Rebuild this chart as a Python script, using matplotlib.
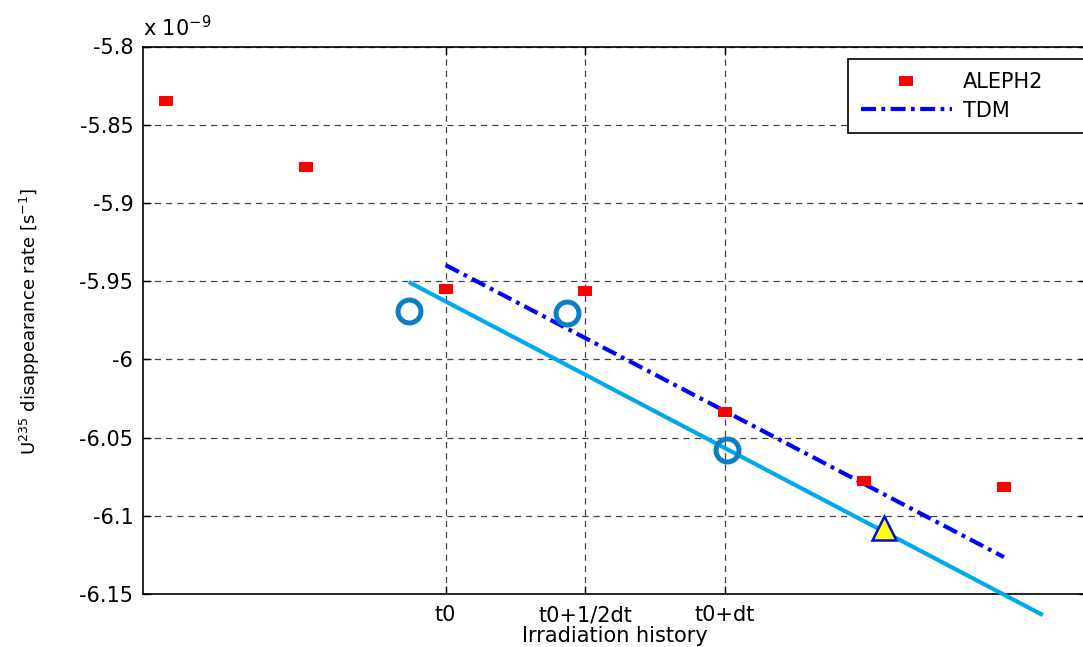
import matplotlib
matplotlib.use("Agg")
import matplotlib.pyplot as plt

# ---------------- data (values in units of 1e-9 s^-1) ----------------
tick_positions = [0, 1, 2]
tick_labels = ["t0", "t0+1/2dt", "t0+dt"]

aleph_x = [-2, -1, 0, 1, 2, 3, 4]
aleph_y = [-5.8348, -5.8770, -5.9551, -5.9564, -6.0337, -6.0778, -6.0815]

tdm_x = [0, 4]
tdm_y = [-5.9397, -6.1264]

fit_x = [-0.263, 4.279]
fit_y = [-5.9506, -6.1635]

circle_x = [-0.259, 0.870, 2.019]
circle_y = [-5.9688, -5.9701, -6.0580]

tri_x = [3.14]
tri_y = [-6.1075]

yticks = [-5.8, -5.85, -5.9, -5.95, -6.0, -6.05, -6.1, -6.15]
ytick_labels = ["-5.8", "-5.85", "-5.9", "-5.95", "-6", "-6.05", "-6.1", "-6.15"]

# ---------------- figure ----------------
plt.rcParams['font.family'] = ['DejaVu Sans']
W, H = 1083, 647
fig = plt.figure(figsize=(W / 100, H / 100), dpi=100)
ax = fig.add_axes([143 / W, (H - 594) / H, (1087 - 143) / W, (594 - 46.5) / H])

ax.set_xlim(-2.168, 4.595)
ax.set_ylim(-6.15, -5.8)

rect_marker = [(-0.7, -0.5), (0.7, -0.5), (0.7, 0.5), (-0.7, 0.5), (-0.7, -0.5)]

ax.plot(fit_x, fit_y, color="#00a8f0", lw=3.0, clip_on=False, zorder=3,
        solid_capstyle="butt")
tdm_line, = ax.plot(tdm_x, tdm_y, color="#0000ff", lw=3.0, zorder=4,
                    dashes=(3.6, 1.3, 0.9, 1.3), label="TDM")
aleph_line, = ax.plot(aleph_x, aleph_y, linestyle="none", marker=rect_marker,
                      markersize=10.2, markerfacecolor="#ff0000",
                      markeredgewidth=0, color="#ff0000", zorder=5, label="ALEPH2")
ax.plot(circle_x, circle_y, linestyle="none", marker="o", markersize=16.5,
        markerfacecolor="none", markeredgecolor="#0a7fc2", markeredgewidth=3.6,
        zorder=6)
ax.plot(tri_x, tri_y, linestyle="none", marker="^", markersize=17,
        markerfacecolor="#ffff00", markeredgecolor="#0010d0", markeredgewidth=1.8,
        zorder=7)

# ticks
ax.set_xticks(tick_positions)
ax.set_xticklabels(tick_labels)
ax.set_yticks(yticks)
ax.set_yticklabels(ytick_labels)
ax.tick_params(axis="both", direction="in", length=6, width=1, labelsize=15,
               top=True, right=True)
ax.tick_params(axis="y", pad=7)
ax.tick_params(axis="x", pad=8)

ax.grid(True, color="#444444", linestyle=(0, (5, 4)), linewidth=0.9)
ax.set_axisbelow(True)
for s in ax.spines.values():
    s.set_linewidth(1.2)
    s.set_color("black")

ax.set_xlabel("Irradiation history", fontsize=15, labelpad=1)
fig.text(30 / W, 1 - 321 / H, r"U$^{235}$ disappearance rate [s$^{-1}$]",
         rotation=90, ha="center", va="center", fontsize=13)
fig.text(143 / W, 1 - 36 / H, r"x 10$^{-9}$", fontsize=15, ha="left", va="baseline")

leg = ax.legend(handles=[aleph_line, tdm_line], loc="upper left",
                bbox_to_anchor=((848 - 143) / 944, (594 - 60) / 547.5, 0.3, 0.001),
                mode="expand", fontsize=15, handlelength=4.4, handletextpad=0.5,
                borderpad=0.6, labelspacing=0.42, borderaxespad=0,
                fancybox=False, framealpha=1, edgecolor="black")
leg.get_frame().set_linewidth(1.2)

fig.savefig("out.png", dpi=100)
